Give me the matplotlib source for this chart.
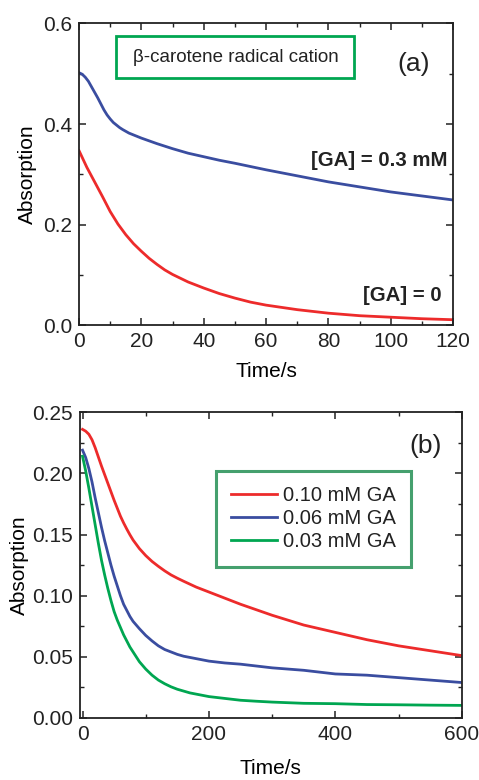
import matplotlib
matplotlib.use('Agg')
import matplotlib.pyplot as plt
from matplotlib.ticker import MultipleLocator, FormatStrFormatter
from matplotlib.patches import Rectangle

plt.rcParams['font.family'] = ['Liberation Sans', 'DejaVu Sans']

# panel (a): beta-carotene radical cation decay
t_a_red = [0, 2.5, 5, 7.5, 10, 12.5, 15, 17.5, 20, 22.5, 25, 27.5, 30, 35, 40, 45,
           50, 55, 60, 70, 80, 90, 100, 110, 120]
abs_a_red = [0.347, 0.314, 0.285, 0.256, 0.226, 0.201, 0.180, 0.162, 0.147, 0.133,
             0.121, 0.110, 0.101, 0.086, 0.074, 0.063, 0.054, 0.046, 0.040, 0.031,
             0.024, 0.019, 0.016, 0.013, 0.011]
t_a_blue = [0, 1, 2, 3, 4, 5, 6, 7, 8, 9, 10, 11, 12, 13, 14, 16, 18, 20, 25, 30,
            35, 40, 45, 50, 60, 70, 80, 90, 100, 110, 120]
abs_a_blue = [0.502, 0.499, 0.493, 0.485, 0.474, 0.463, 0.452, 0.440, 0.428, 0.418,
              0.410, 0.403, 0.398, 0.393, 0.389, 0.382, 0.377, 0.372, 0.361, 0.351,
              0.342, 0.335, 0.328, 0.322, 0.309, 0.297, 0.285, 0.275, 0.265, 0.257,
              0.249]

# panel (b): three GA concentrations
t_b = [0, 5, 10, 15, 20, 25, 30, 35, 40, 45, 50, 55, 60, 65, 70, 75, 80, 90, 100,
       110, 120, 130, 140, 150, 160, 170, 180, 190, 200, 225, 250, 275, 300, 350,
       400, 450, 500, 550, 600]
abs_b_010 = [0.236, 0.2345, 0.232, 0.2275, 0.221, 0.2135, 0.206, 0.199, 0.192, 0.185,
             0.178, 0.1715, 0.165, 0.1595, 0.1545, 0.1498, 0.1455, 0.1385, 0.1328, 0.128,
             0.124, 0.1203, 0.117, 0.1143, 0.1118, 0.1094, 0.107, 0.105, 0.103, 0.098,
             0.093, 0.0885, 0.084, 0.076, 0.070, 0.064, 0.059, 0.055, 0.051]
abs_b_006 = [0.219, 0.213, 0.204, 0.193, 0.180, 0.168, 0.156, 0.145, 0.135, 0.125,
             0.116, 0.108, 0.100, 0.093, 0.088, 0.083, 0.079, 0.073, 0.0675, 0.063,
             0.059, 0.056, 0.054, 0.052, 0.0505, 0.0495, 0.0485, 0.0475, 0.0465, 0.0450,
             0.0440, 0.0425, 0.041, 0.039, 0.036, 0.035, 0.033, 0.031, 0.029]
abs_b_003 = [0.214, 0.202, 0.188, 0.173, 0.158, 0.143, 0.129, 0.117, 0.106, 0.096,
             0.087, 0.080, 0.074, 0.068, 0.063, 0.058, 0.054, 0.046, 0.040, 0.035,
             0.031, 0.028, 0.0255, 0.0235, 0.022, 0.0205, 0.0195, 0.0185, 0.0175, 0.016,
             0.0145, 0.0137, 0.013, 0.012, 0.0117, 0.011, 0.0108, 0.0105, 0.0103]
labels_b = ['0.10 mM GA', '0.06 mM GA', '0.03 mM GA']

c_red = '#ED2B2B'
c_blue = '#3A4DA0'
c_green = '#00A651'
c_text = '#222222'


def style_axes(ax):
    for s in ax.spines.values():
        s.set_linewidth(1.3)
        s.set_color(c_text)
    ax.tick_params(which='both', direction='in', top=True, right=True,
                   labelsize=15, pad=5, colors=c_text)
    ax.tick_params(which='major', length=5, width=1.1)
    ax.tick_params(which='minor', length=3, width=1.0)


fig = plt.figure(figsize=(4.79, 7.80), dpi=100)
fig.patch.set_facecolor('white')

# --- (a) ---
ax1 = fig.add_axes([0.165, 0.583, 0.781, 0.387])
ax1.plot(t_a_blue, abs_a_blue, color=c_blue, lw=2.0)
ax1.plot(t_a_red, abs_a_red, color=c_red, lw=2.0)
ax1.set_xlim(0, 120)
ax1.set_ylim(0, 0.6)
ax1.xaxis.set_major_locator(MultipleLocator(20))
ax1.xaxis.set_minor_locator(MultipleLocator(10))
ax1.yaxis.set_major_locator(MultipleLocator(0.2))
ax1.yaxis.set_minor_locator(MultipleLocator(0.1))
style_axes(ax1)
ax1.set_xlabel('Time/s', fontsize=15, labelpad=8)
ax1.set_ylabel('Absorption', fontsize=15, labelpad=4)

ax1.add_patch(Rectangle((0.10, 0.818), 0.635, 0.139, transform=ax1.transAxes,
                        fc='white', ec=c_green, lw=2, zorder=5))
ax1.text(0.418, 0.887, '\u03b2-carotene radical cation', transform=ax1.transAxes,
         fontsize=13.5, ha='center', va='center', color=c_text, zorder=6)
ax1.text(0.895, 0.865, '(a)', transform=ax1.transAxes, fontsize=19,
         ha='center', va='center', color=c_text)
ax1.text(0.985, 0.545, '[GA] = 0.3 mM', transform=ax1.transAxes, fontsize=14.7,
         fontweight='bold', ha='right', va='center', color=c_text)
ax1.text(0.97, 0.10, '[GA] = 0', transform=ax1.transAxes, fontsize=14.7,
         fontweight='bold', ha='right', va='center', color=c_text)

# --- (b) ---
ax2 = fig.add_axes([0.167, 0.0795, 0.797, 0.392])
ax2.plot(t_b, abs_b_010, color=c_red, lw=2.0, label=labels_b[0])
ax2.plot(t_b, abs_b_006, color=c_blue, lw=2.0, label=labels_b[1])
ax2.plot(t_b, abs_b_003, color=c_green, lw=2.0, label=labels_b[2])
ax2.set_xlim(-4, 600)
ax2.set_ylim(0, 0.25)
ax2.xaxis.set_major_locator(MultipleLocator(200))
ax2.xaxis.set_minor_locator(MultipleLocator(100))
ax2.yaxis.set_major_locator(MultipleLocator(0.05))
ax2.yaxis.set_minor_locator(MultipleLocator(0.025))
ax2.yaxis.set_major_formatter(FormatStrFormatter('%.2f'))
style_axes(ax2)
ax2.set_xlabel('Time/s', fontsize=15, labelpad=11)
ax2.set_ylabel('Absorption', fontsize=15, labelpad=2)

ax2.text(0.905, 0.89, '(b)', transform=ax2.transAxes, fontsize=19,
         ha='center', va='center', color=c_text)
leg = ax2.legend(loc='upper left', bbox_to_anchor=(0.356, 0.807), fontsize=14.5,
                 frameon=True, fancybox=False, edgecolor='#17894A',
                 handlelength=2.3, handletextpad=0.3, labelspacing=0.2,
                 borderpad=0.75, borderaxespad=0)
leg.get_frame().set_linewidth(2.2)
for txt in leg.get_texts():
    txt.set_color(c_text)

plt.savefig('out.png', dpi=100)
